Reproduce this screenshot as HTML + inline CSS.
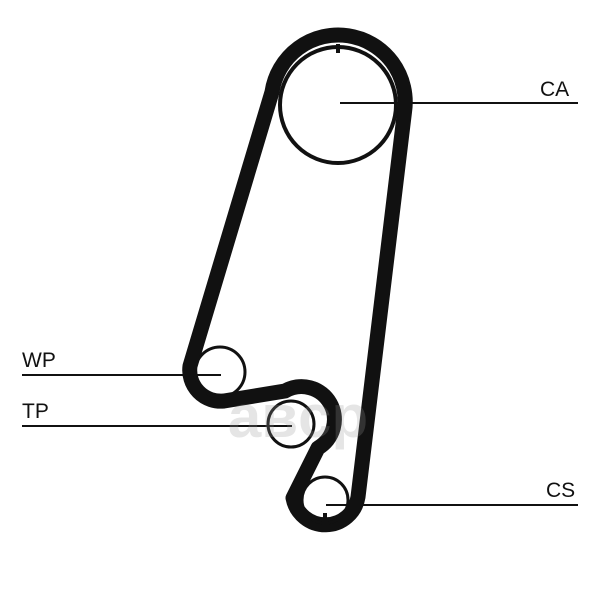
<!DOCTYPE html>
<html><head><style>body{margin:0;background:#fff}svg{display:block}</style></head>
<body>
<svg width="600" height="600" viewBox="0 0 600 600" xmlns="http://www.w3.org/2000/svg">
<g fill="none" stroke="#111">
<path stroke-width="15" stroke-linejoin="round" d="M272 92 A67 67 0 1 1 404.5 112 L358 497 A33 33 0 0 1 293 498 L318 448 A31 31 0 0 0 285 391 L224 401 A31 31 0 0 1 190 366 Z"/>
<circle cx="338" cy="105" r="58" stroke-width="4"/>
<circle cx="220" cy="372" r="25" stroke-width="3"/>
<circle cx="291" cy="424" r="23" stroke-width="3"/>
<circle cx="325" cy="500" r="23" stroke-width="3"/>
<line x1="338" y1="44" x2="338" y2="53" stroke-width="4"/>
<line x1="325" y1="513" x2="325" y2="522" stroke-width="4"/>
<g stroke-width="2">
<line x1="340" y1="103" x2="578" y2="103"/>
<line x1="22" y1="375" x2="221" y2="375"/>
<line x1="22" y1="426" x2="292" y2="426"/>
<line x1="326" y1="505" x2="578" y2="505"/>
</g>
</g>
<text x="298" y="437" font-family="Liberation Sans, sans-serif" font-size="60" font-weight="bold" fill="#999" fill-opacity="0.25" text-anchor="middle">aвcp</text>
<g font-family="Liberation Sans, sans-serif" font-size="21" fill="#111">
<text x="540" y="96">CA</text>
<text x="22" y="367">WP</text>
<text x="22" y="418">TP</text>
<text x="546" y="497">CS</text>
</g>
</svg>
</body></html>
